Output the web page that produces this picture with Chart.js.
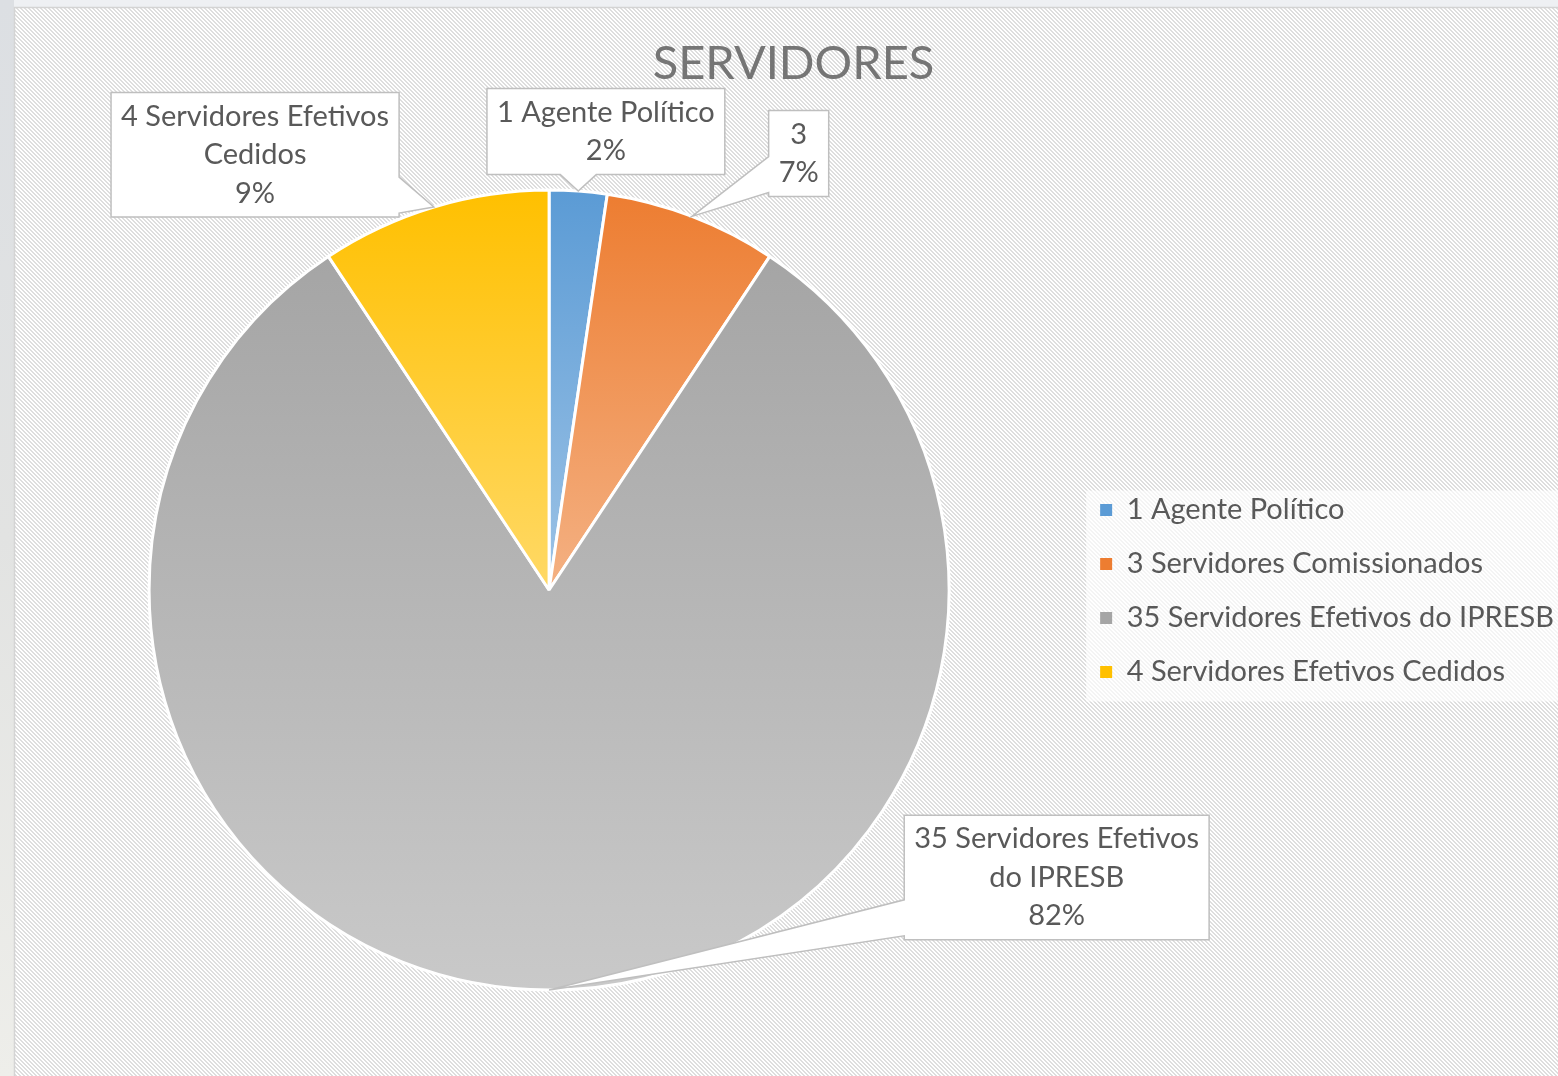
<!DOCTYPE html>
<html>
<head>
<meta charset="utf-8">
<script src="https://cdn.jsdelivr.net/npm/chart.js@4.4.1/dist/chart.umd.min.js"></script>
<style>
    html, body { margin: 0; padding: 0; background: #eef0f3; }
</style>
</head>
<body>
<canvas id="pieChart" width="1558" height="1076"></canvas>
<script>
// Dados do gráfico
const categories = ['1 Agente Político', '3 Servidores Comissionados', '35 Servidores Efetivos do IPRESB', '4 Servidores Efetivos Cedidos'];
const values = [1, 3, 35, 4];
const percentLabels = ['2%', '7%', '82%', '9%'];
// Texto dos rótulos (quebrado como no original)
const calloutText = [
    ['1 Agente Político'],
    ['3'],
    ['35 Servidores Efetivos', 'do IPRESB'],
    ['4 Servidores Efetivos', 'Cedidos']
];

// Cores (topo -> base de cada fatia)
const topColors = ['#5b9bd5', '#ed7d31', '#a5a5a5', '#ffc000'];
const bottomColors = ['#9dc3e6', '#f4b183', '#c9c9c9', '#ffd966'];

// Posição das caixas de rótulo, relativa ao centro da pizza (em raios)
const calloutOffsets = [[0.142, -1.146], [0.624, -1.091], [1.269, 0.719], [-0.735, -1.088]];

const textColor = '#595959';
const fontFamily = 'Lato, Carlito, Calibri, sans-serif';

// Degradê vertical de cada fatia
function sliceGradient(context) {
    const chart = context.chart;
    const area = chart.chartArea;
    const i = context.dataIndex;
    if (!area || i === undefined) return topColors[i] || '#ccc';
    const cx = (area.left + area.right) / 2;
    const cy = (area.top + area.bottom) / 2;
    const r = Math.min(area.width, area.height) / 2;
    const total = values.reduce((a, b) => a + b, 0);
    let before = 0;
    for (let k = 0; k < i; k++) before += values[k];
    const a0 = before / total * Math.PI * 2 - Math.PI / 2;
    const a1 = (before + values[i]) / total * Math.PI * 2 - Math.PI / 2;
    const ys = [cy, cy + r * Math.sin(a0), cy + r * Math.sin(a1)];
    if (a0 < Math.PI / 2 && a1 > Math.PI / 2) ys.push(cy + r);
    const g = chart.ctx.createLinearGradient(0, Math.min(...ys), 0, Math.max(...ys));
    g.addColorStop(0, topColors[i]);
    g.addColorStop(1, bottomColors[i]);
    return g;
}

// Padrão hachurado do fundo
const patternCanvas = document.createElement('canvas');
patternCanvas.width = 4;
patternCanvas.height = 4;
const pctx = patternCanvas.getContext('2d');
pctx.fillStyle = '#ffffff';
pctx.fillRect(0, 0, 4, 4);
pctx.fillStyle = '#dedede';
for (let y = 0; y < 4; y++) {
    pctx.fillRect(y, y, 1, 1);
    pctx.fillRect((y + 1) % 4, y, 1, 1);
}

const backgroundPlugin = {
    id: 'fundo',
    beforeDraw(chart) {
        const ctx = chart.ctx;
        const W = chart.width, H = chart.height;
        ctx.save();
        ctx.fillStyle = '#eef0f3';
        ctx.fillRect(0, 0, W, H);
        const side = ctx.createLinearGradient(0, 0, 0, H);
        side.addColorStop(0, '#dcdfe3');
        side.addColorStop(0.5, '#e2e3e2');
        side.addColorStop(1, '#eeeeea');
        ctx.fillStyle = side;
        ctx.fillRect(0, 0, 14, H);
        ctx.fillStyle = ctx.createPattern(patternCanvas, 'repeat');
        ctx.fillRect(14, 7, W - 14, H - 7);
        ctx.strokeStyle = '#d4d4d4';
        ctx.lineWidth = 1.5;
        ctx.strokeRect(14.5, 7.5, W, H);
        // fundo claro da legenda
        const boxes = chart.legend && chart.legend.legendHitBoxes;
        if (boxes && boxes.length) {
            const first = boxes[0], last = boxes[boxes.length - 1];
            const top = first.top - 5;
            const bottom = last.top + last.height + 15;
            ctx.fillStyle = 'rgba(255,255,255,0.65)';
            ctx.fillRect(first.left - 14, top, W - first.left + 14, bottom - top);
        }
        ctx.restore();
    }
};

function bubblePath(ctx, L, T, R, B, tx, ty, bw) {
    const dx = tx < L ? L - tx : (tx > R ? tx - R : 0);
    const dy = ty < T ? T - ty : (ty > B ? ty - B : 0);
    let side = 'none';
    if (dx > 0 || dy > 0) side = dy > dx ? (ty < T ? 'top' : 'bottom') : (tx < L ? 'left' : 'right');
    const clamp = (v, lo, hi) => Math.max(lo, Math.min(hi, v));
    const ch = clamp(tx, L + bw / 2 + 4, R - bw / 2 - 4);
    const cv = clamp(ty, T + bw / 2 + 4, B - bw / 2 - 4);
    ctx.beginPath();
    ctx.moveTo(L, T);
    if (side === 'top') { ctx.lineTo(ch - bw / 2, T); ctx.lineTo(tx, ty); ctx.lineTo(ch + bw / 2, T); }
    ctx.lineTo(R, T);
    if (side === 'right') { ctx.lineTo(R, cv - bw / 2); ctx.lineTo(tx, ty); ctx.lineTo(R, cv + bw / 2); }
    ctx.lineTo(R, B);
    if (side === 'bottom') { ctx.lineTo(ch + bw / 2, B); ctx.lineTo(tx, ty); ctx.lineTo(ch - bw / 2, B); }
    ctx.lineTo(L, B);
    if (side === 'left') { ctx.lineTo(L, cv + bw / 2); ctx.lineTo(tx, ty); ctx.lineTo(L, cv - bw / 2); }
    ctx.closePath();
}

// Rótulos em balão, ligados ao meio de cada fatia
const calloutPlugin = {
    id: 'baloes',
    afterDatasetsDraw(chart) {
        const ctx = chart.ctx;
        const meta = chart.getDatasetMeta(0);
        const lineH = 38.5;
        ctx.save();
        ctx.font = '29px ' + fontFamily;
        meta.data.forEach((arc, i) => {
            const mid = (arc.startAngle + arc.endAngle) / 2;
            const r = arc.outerRadius;
            const tx = arc.x + Math.cos(mid) * r;
            const ty = arc.y + Math.sin(mid) * r;
            const lines = calloutText[i].concat([percentLabels[i]]);
            const w = Math.max(...lines.map(t => ctx.measureText(t).width)) + 20;
            const h = lines.length * lineH + 9;
            const cx = arc.x + calloutOffsets[i][0] * r;
            const cy = arc.y + calloutOffsets[i][1] * r;
            const L = cx - w / 2, T = cy - h / 2;
            bubblePath(ctx, L, T, L + w, T + h, tx, ty, 36);
            ctx.fillStyle = '#ffffff';
            ctx.fill();
            ctx.strokeStyle = '#bfbfbf';
            ctx.lineWidth = 1.5;
            ctx.stroke();
            ctx.fillStyle = textColor;
            ctx.textAlign = 'center';
            ctx.textBaseline = 'middle';
            lines.forEach((t, k) => ctx.fillText(t, cx, T + 4.5 + lineH * (k + 0.5)));
        });
        ctx.restore();
    }
};

const pieChart = new Chart(document.getElementById('pieChart'), {
    type: 'pie',
    data: {
        labels: categories,
        datasets: [{
            data: values,
            backgroundColor: sliceGradient,
            borderColor: '#ffffff',
            borderWidth: 3,
            radius: 400
        }]
    },
    options: {
        responsive: false,
        animation: false,
        layout: { padding: { left: 23, right: -6, top: 0, bottom: 86 } },
        plugins: {
            title: {
                display: true,
                text: 'SERVIDORES',
                color: '#757575',
                font: { family: fontFamily, size: 47, weight: 'normal', lineHeight: 1.2 },
                padding: { top: 36, bottom: 97.6 }
            },
            legend: {
                display: true,
                position: 'right',
                title: { display: true, text: '', font: { size: 12 }, padding: { top: 177.6, bottom: 0 } },
                labels: {
                    color: textColor,
                    font: { family: fontFamily, size: 29 },
                    boxWidth: 12,
                    boxHeight: 12,
                    padding: 25,
                    generateLabels: chart => categories.map((c, i) => ({
                        text: c,
                        fillStyle: topColors[i],
                        strokeStyle: topColors[i],
                        lineWidth: 0,
                        hidden: false,
                        index: i,
                        fontColor: textColor
                    }))
                }
            },
            tooltip: { enabled: false }
        }
    },
    plugins: [backgroundPlugin, calloutPlugin]
});
</script>
</body>
</html>
